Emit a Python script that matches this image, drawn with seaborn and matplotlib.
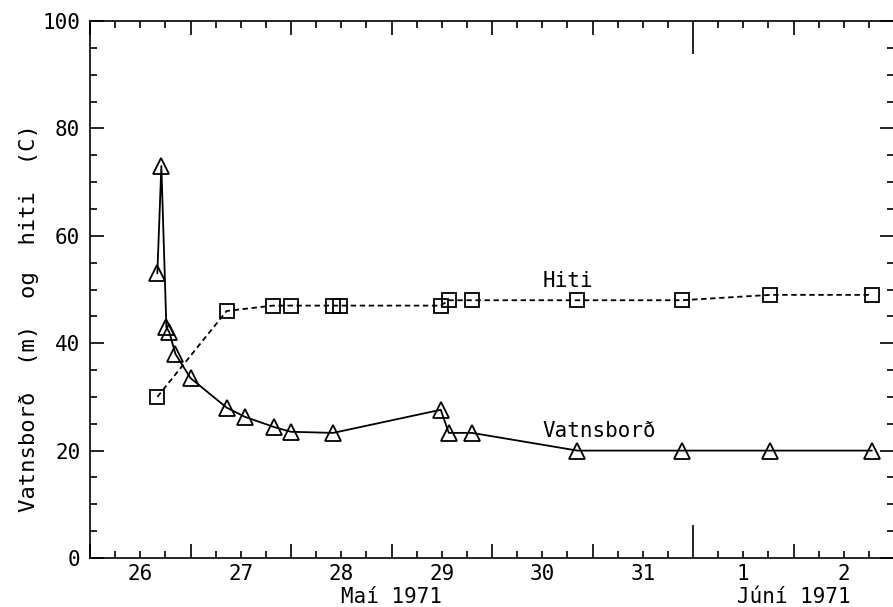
import numpy as np
import pandas as pd
import matplotlib
matplotlib.use("Agg")
import matplotlib.pyplot as plt
from matplotlib.ticker import FixedLocator, MultipleLocator, FuncFormatter, NullFormatter
import seaborn as sns

# time axis: day of May 1971 (32 = 1 June 00:00)
vatn_t = [26.67, 26.71, 26.76, 26.79, 26.85, 27.00, 27.36, 27.54, 27.83, 28.00,
          28.42, 29.49, 29.57, 29.80, 30.85, 31.89, 32.77, 33.78]
vatn_v = [53, 73, 43, 42, 38, 33.5, 28, 26.3, 24.4, 23.5,
          23.3, 27.6, 23.3, 23.3, 20, 20, 20, 20]

hiti_t = [26.67, 27.36, 27.82, 28.00, 28.42, 28.49, 29.49, 29.57, 29.80,
          30.85, 31.89, 32.77, 33.78]
hiti_v = [30, 46, 47, 47, 47, 47, 47, 48, 48,
          48, 48, 49, 49]

day_ticks = list(range(26, 35))
month_labels = ["Maí 1971", "Júní 1971"]
month_pos = [29.0, 33.0]

sns.set_style("ticks")
plt.rcParams['font.family'] = ['DejaVu Sans Mono']
plt.rcParams['font.size'] = 15
plt.rcParams['text.color'] = 'black'
plt.rcParams['axes.labelcolor'] = 'black'

fig = plt.figure(figsize=(8.93, 6.07), dpi=100)
ax = fig.add_axes([90 / 893, 49 / 607, 804 / 893, 537 / 607])

sns.lineplot(x=vatn_t, y=vatn_v, ax=ax, color="black", lw=1.3, estimator=None,
             marker="^", markersize=12, markerfacecolor="none",
             markeredgecolor="black", markeredgewidth=1.3)
sns.lineplot(x=hiti_t, y=hiti_v, ax=ax, color="black", lw=1.3, estimator=None,
             linestyle=(0, (3, 2)), marker="s", markersize=10,
             markerfacecolor="none", markeredgecolor="black",
             markeredgewidth=1.3)

ax.set_xlim(26, 34)
ax.set_ylim(0, 100)

ax.text(30.5, 50.5, "Hiti", ha="left", va="baseline", color="black")
ax.text(30.5, 22.5, "Vatnsborð", ha="left", va="baseline", color="black")

# x axis: long ticks at midnight, day labels at noon
ax.xaxis.set_major_locator(FixedLocator(day_ticks))
ax.xaxis.set_major_formatter(NullFormatter())
ax.xaxis.set_minor_locator(MultipleLocator(0.25))


def day_label(v, pos):
    if abs(v % 1 - 0.5) > 1e-6:
        return ""
    d = int(v)
    return str(d if d <= 31 else d - 31)


ax.xaxis.set_minor_formatter(FuncFormatter(day_label))

ax.yaxis.set_major_locator(MultipleLocator(20))
ax.yaxis.set_minor_locator(MultipleLocator(5))

ax.tick_params(which="both", direction="in", top=True, right=True,
               colors="black", width=1.2)
ax.tick_params(which="major", length=10)
ax.tick_params(which="minor", length=5)
ax.tick_params(axis="x", which="minor", pad=4, labelsize=15)
ax.tick_params(axis="y", which="major", pad=7, labelsize=15)

for tick, loc in zip(ax.xaxis.get_major_ticks(), day_ticks):
    if loc == 32:
        tick.tick1line.set_markersize(24)
        tick.tick2line.set_markersize(24)

for s in ax.spines.values():
    s.set_linewidth(1.2)
    s.set_color("black")

for lab, pos in zip(month_labels, month_pos):
    ax.text(pos, -7.3, lab, ha="center", va="center", color="black")

ax.set_xlabel("")
ax.set_ylabel("Vatnsborð  (m)  og  hiti  (C)", fontsize=16, color="black")
ax.yaxis.set_label_coords(-0.064, 0.447)

fig.savefig("out.png", dpi=100)
